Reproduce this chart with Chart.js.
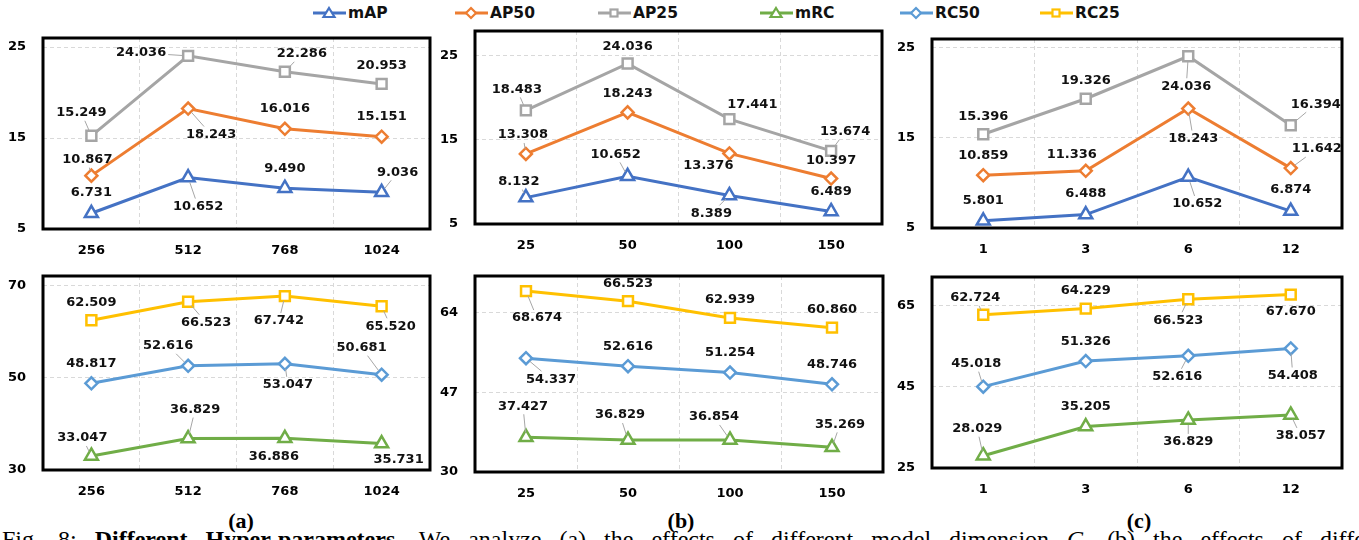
<!DOCTYPE html>
<html><head><meta charset="utf-8">
<script src="https://cdn.jsdelivr.net/npm/chart.js@4"></script>
<style>
html,body{margin:0;padding:0;background:#fff;width:1359px;height:540px;overflow:hidden;}
body{position:relative;font-family:"DejaVu Sans",sans-serif;}
.pane{position:absolute;}
.leg{position:absolute;top:4px;display:flex;align-items:center;font:bold 15.5px "DejaVu Sans",sans-serif;color:#111;white-space:nowrap;}
.leg svg{margin-right:2px;}
.sub{position:absolute;top:508px;font:bold 22px/26px "Liberation Serif",serif;transform:translateX(-50%);color:#000;}
.cap{position:absolute;left:2px;top:527px;white-space:nowrap;font:24px/24px "Liberation Serif",serif;word-spacing:12px;color:#000;}
</style></head><body>
<div id="legend"></div>
<div class="sub" style="left:241px">(a)</div>
<div class="sub" style="left:681px">(b)</div>
<div class="sub" style="left:1139px">(c)</div>
<div class="cap">Fig. 8: <b>Different Hyper-parameters.</b> We analyze (a) the effects of different model dimension <i>C</i>, (b) the effects of different number of</div>
<script>
// ---------- categories ----------
const catsA = ['256', '512', '768', '1024'];
const catsB = ['25', '50', '100', '150'];
const catsC = ['1', '3', '6', '12'];

// ---------- series values ----------
const mAP_A  = [6.731, 10.652, 9.490, 9.036];
const AP50_A = [10.867, 18.243, 16.016, 15.151];
const AP25_A = [15.249, 24.036, 22.286, 20.953];
const mAP_B  = [8.132, 10.652, 8.389, 6.489];
const AP50_B = [13.308, 18.243, 13.376, 10.397];
const AP25_B = [18.483, 24.036, 17.441, 13.674];
const mAP_C  = [5.801, 6.488, 10.652, 6.874];
const AP50_C = [10.859, 11.336, 18.243, 11.642];
const AP25_C = [15.396, 19.326, 24.036, 16.394];

const mRC_A  = [33.047, 36.829, 36.886, 35.731];
const RC50_A = [48.817, 52.616, 53.047, 50.681];
const RC25_A = [62.509, 66.523, 67.742, 65.520];
const mRC_B  = [37.427, 36.829, 36.854, 35.269];
const RC50_B = [54.337, 52.616, 51.254, 48.746];
const RC25_B = [68.674, 66.523, 62.939, 60.860];
const mRC_C  = [28.029, 35.205, 36.829, 38.057];
const RC50_C = [45.018, 51.326, 52.616, 54.408];
const RC25_C = [62.724, 64.229, 66.523, 67.670];

// ---------- tick labels ----------
const yTicksTop = [5, 15, 25];
const yTicksA2 = [30, 50, 70];
const yTicksB2 = [30, 47, 64];
const yTicksC2 = [25, 45, 65];

// ---------- styles ----------
const STY = {
  mAP:  {color: '#4472C4', pt: 'triangle', r: 7.5},
  AP50: {color: '#ED7D31', pt: 'rectRot', r: 6},
  AP25: {color: '#A5A5A5', pt: 'rect', r: 7},
  mRC:  {color: '#70AD47', pt: 'triangle', r: 7.5},
  RC50: {color: '#5B9BD5', pt: 'rectRot', r: 6},
  RC25: {color: '#FFC000', pt: 'rect', r: 7}
};
const legendOrder = ['mAP', 'AP50', 'AP25', 'mRC', 'RC50', 'RC25'];
const legendX = [313, 455, 598, 760, 900, 1040];

// label placements [dx, dy, leader] per series per point
const placeA1 = [
  [[0,-21,0],[10,29,1],[0,-20,0],[16,-20,1]],
  [[-4,-16,1],[23,26,1],[0,-20,0],[0,-20,0]],
  [[-10,-23,1],[-47,-3,1],[17,-18,1],[0,-18,0]]
];
const placeB1 = [
  [[-7,-16,1],[-12,-22,1],[-18,18,1],[0,-20,0]],
  [[-3,-19,1],[0,-19,0],[-21,12,0],[0,-18,0]],
  [[-9,-21,1],[0,-17,0],[23,-15,0],[14,-19,1]]
];
const placeC1 = [
  [[0,-20,0],[0,-21,0],[9,27,1],[0,-21,0]],
  [[0,-20,0],[-14,-16,0],[5,30,1],[26,-19,1]],
  [[0,-18,0],[0,-18,0],[-2,30,1],[25,-21,1]]
];
const placeA2 = [
  [[-9,-18,1],[7,-29,1],[-11,18,0],[17,16,0]],
  [[0,-20,0],[-20,-20,1],[3,21,1],[-20,-27,1]],
  [[0,-18,0],[18,21,1],[-6,25,1],[9,20,1]]
];
const placeB2 = [
  [[-3,-31,1],[-8,-25,1],[-16,-23,1],[8,-23,1]],
  [[25,21,1],[0,-20,0],[0,-20,0],[0,-20,0]],
  [[11,27,1],[0,-18,0],[0,-18,0],[0,-18,0]]
];
const placeC2 = [
  [[-6,-27,1],[0,-20,0],[0,22,1],[10,21,1]],
  [[-7,-23,1],[0,-19,0],[-11,21,1],[2,27,1]],
  [[-8,-17,1],[0,-18,0],[-10,21,1],[0,17,0]]
];

// ---------- legend ----------
function iconSVG(key) {
  const s = STY[key];
  let m = '';
  if (s.pt === 'triangle') m = '<polygon points="16,2 21.5,11 10.5,11" fill="#fff" stroke="' + s.color + '" stroke-width="2.2"/>';
  else if (s.pt === 'rectRot') m = '<polygon points="16,2 21,7 16,12 11,7" fill="#fff" stroke="' + s.color + '" stroke-width="2.2"/>';
  else m = '<rect x="12.5" y="3.5" width="7" height="7" fill="#fff" stroke="' + s.color + '" stroke-width="2.2"/>';
  return '<svg width="33" height="14" viewBox="0 0 33 14"><line x1="0" y1="7" x2="33" y2="7" stroke="' + s.color + '" stroke-width="3"/>' + m + '</svg>';
}
const legEl = document.getElementById('legend');
legendOrder.forEach((k, i) => {
  const d = document.createElement('div');
  d.className = 'leg';
  d.style.left = legendX[i] + 'px';
  d.innerHTML = iconSVG(k) + '<span>' + k + '</span>';
  legEl.appendChild(d);
});

// ---------- plugin: frame + data labels ----------
const framePlugin = {
  id: 'frame',
  beforeDatasetsDraw(chart) {
    const a = chart.chartArea, c = chart.ctx;
    c.save();
    c.lineWidth = 3; c.strokeStyle = '#000';
    c.strokeRect(a.left, a.top, a.right - a.left, a.bottom - a.top);
    c.restore();
  },
  afterDatasetsDraw(chart, args, opts) {
    const c = chart.ctx, pl = opts.placements;
    c.save();
    c.font = 'bold 13px "DejaVu Sans", sans-serif';
    c.textAlign = 'center'; c.textBaseline = 'middle';
    chart.data.datasets.forEach((ds, i) => {
      const meta = chart.getDatasetMeta(i);
      meta.data.forEach((el, j) => {
        const p = pl[i][j];
        const tx = el.x + p[0], ty = el.y + p[1];
        const txt = ds.data[j].toFixed(3);
        if (p[2]) {
          const w = c.measureText(txt).width, hw = w / 2 + 2, hh = 8;
          const ddx = tx - el.x, ddy = ty - el.y;
          const len = Math.hypot(ddx, ddy);
          const t = Math.min(ddx ? hw / Math.abs(ddx) : 1e9, ddy ? hh / Math.abs(ddy) : 1e9);
          if (t < 1) {
            const ex = tx - t * ddx, ey = ty - t * ddy;
            const sx = el.x + ddx / len * 5, sy = el.y + ddy / len * 5;
            if (Math.hypot(ex - sx, ey - sy) > 3) {
              c.strokeStyle = '#a6a6a6'; c.lineWidth = 1;
              c.beginPath(); c.moveTo(sx, sy); c.lineTo(ex, ey); c.stroke();
            }
          }
        }
        c.fillStyle = '#111';
        c.fillText(txt, tx, ty);
      });
    });
    c.restore();
  }
};

function makeChart(frame, cats, keys, values, yMin, yMax, yTicks, placements) {
  const YW = 45, PT = 30, PR = 14, XH = 40;
  const cv = document.createElement('canvas');
  const W = frame.r - frame.l + YW + PR, H = frame.b - frame.t + PT + XH;
  cv.width = W; cv.height = H;
  cv.className = 'pane';
  cv.style.left = (frame.l - YW) + 'px';
  cv.style.top = (frame.t - PT) + 'px';
  cv.style.width = W + 'px'; cv.style.height = H + 'px';
  document.body.appendChild(cv);
  const tickFont = {family: '"DejaVu Sans", sans-serif', size: 13, weight: 'bold'};
  new Chart(cv, {
    type: 'line',
    data: {
      labels: cats,
      datasets: keys.map((k, i) => ({
        label: k,
        data: values[i],
        borderColor: STY[k].color,
        borderWidth: 3,
        pointStyle: STY[k].pt,
        pointRadius: STY[k].r,
        pointBorderWidth: 2.5,
        pointBackgroundColor: '#fff',
        pointBorderColor: STY[k].color,
        tension: 0,
        clip: false
      }))
    },
    options: {
      responsive: false,
      devicePixelRatio: 1,
      animation: false,
      layout: {padding: {top: PT, right: PR, left: 0, bottom: 0}},
      plugins: {legend: {display: false}, tooltip: {enabled: false}, frame: {placements}},
      scales: {
        x: {
          type: 'category',
          offset: true,
          grid: {offset: true, drawTicks: false, color: '#d9d9d9', lineWidth: 1},
          border: {display: false, dash: [4, 3]},
          ticks: {font: tickFont, color: '#000', padding: 14, maxRotation: 0},
          afterFit: s => { s.height = XH; }
        },
        y: {
          min: yMin, max: yMax,
          grid: {drawTicks: false, color: '#d9d9d9', lineWidth: 1},
          border: {display: false, dash: [4, 3]},
          ticks: {font: tickFont, color: '#000', padding: 17},
          afterBuildTicks: s => { s.ticks = yTicks.map(v => ({value: v})); },
          afterFit: s => { s.width = YW; }
        }
      }
    },
    plugins: [framePlugin]
  });
}

const topKeys = ['mAP', 'AP50', 'AP25'];
const botKeys = ['mRC', 'RC50', 'RC25'];

makeChart({l: 43, t: 38, r: 430, b: 229}, catsA, topKeys, [mAP_A, AP50_A, AP25_A], 5, 26.0, yTicksTop, placeA1);
makeChart({l: 475, t: 31, r: 882, b: 224}, catsB, topKeys, [mAP_B, AP50_B, AP25_B], 5, 27.9, yTicksTop, placeB1);
makeChart({l: 932, t: 39, r: 1342, b: 228}, catsC, topKeys, [mAP_C, AP50_C, AP25_C], 5, 25.95, yTicksTop, placeC1);
makeChart({l: 43, t: 276, r: 430, b: 470}, catsA, botKeys, [mRC_A, RC50_A, RC25_A], 30, 72.1, yTicksA2, placeA2);
makeChart({l: 475, t: 276, r: 883, b: 472}, catsB, botKeys, [mRC_B, RC50_B, RC25_B], 30, 71.9, yTicksB2, placeB2);
makeChart({l: 932, t: 277, r: 1342, b: 468}, catsC, botKeys, [mRC_C, RC50_C, RC25_C], 25, 72.0, yTicksC2, placeC2);
</script>
</body></html>
